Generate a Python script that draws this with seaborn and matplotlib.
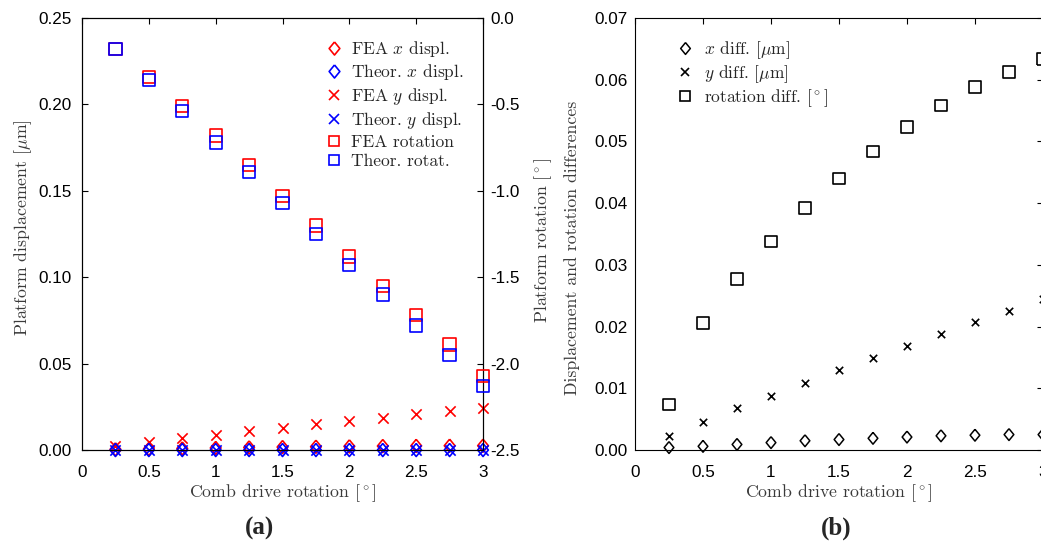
import numpy as np
import matplotlib
matplotlib.use("Agg")
import matplotlib.pyplot as plt
from matplotlib.lines import Line2D
from matplotlib.ticker import FormatStrFormatter
import seaborn as sns

# Data
comb_rot = [0.25, 0.5, 0.75, 1.0, 1.25, 1.5, 1.75, 2.0, 2.25, 2.5, 2.75, 3.0]

fea_x_displ = [0.0004, 0.0006, 0.0009, 0.0012, 0.0015, 0.0017, 0.0019, 0.0021, 0.0023, 0.0024, 0.0025, 0.0025]
theor_x_displ = [0.0, 0.0, 0.0, 0.0, 0.0, 0.0, 0.0, 0.0, 0.0, 0.0, 0.0, 0.0]
fea_y_displ = [0.0023, 0.0046, 0.0068, 0.0088, 0.0109, 0.0130, 0.0149, 0.0169, 0.0188, 0.0207, 0.0225, 0.0245]
theor_y_displ = [0.0, 0.0, 0.0, 0.0, 0.0, 0.0, 0.0, 0.0, 0.0, 0.0, 0.0, 0.0]
fea_rotation = [-0.18, -0.34, -0.51, -0.68, -0.85, -1.03, -1.20, -1.38, -1.55, -1.72, -1.89, -2.07]
theor_rotation = [-0.18, -0.36, -0.54, -0.72, -0.89, -1.07, -1.25, -1.43, -1.60, -1.78, -1.95, -2.13]

x_diff = [0.0004, 0.0006, 0.0009, 0.0012, 0.0015, 0.0017, 0.0019, 0.0021, 0.0023, 0.0024, 0.0025, 0.0025]
y_diff = [0.0023, 0.0046, 0.0068, 0.0088, 0.0109, 0.0130, 0.0149, 0.0169, 0.0188, 0.0207, 0.0225, 0.0245]
rot_diff = [0.0074, 0.0206, 0.0277, 0.0338, 0.0392, 0.0440, 0.0484, 0.0523, 0.0558, 0.0588, 0.0613, 0.0634]

sns.set_style("white")
plt.rcParams["font.family"] = ["Liberation Sans", "DejaVu Sans"]
plt.rcParams["mathtext.fontset"] = "cm"
plt.rcParams["axes.unicode_minus"] = False

label_font = {"family": "cmr10", "size": 12.8, "color": "#3a3a3a"}
legend_font = {"family": "cmr10", "size": 12.5}
tick_size = 12.3

# MATLAB-like diamond (a bit narrower than tall)
diamond = [(0, 1), (0.82, 0), (0, -1), (-0.82, 0), (0, 1)]

fig = plt.figure(figsize=(10.41, 5.49), dpi=100)
ax1 = fig.add_axes([0.0788, 0.1803, 0.3852, 0.7869])
ax3 = fig.add_axes([0.6100, 0.1803, 0.3919, 0.7869])


def style_axes(ax, ypad=6.5):
    for sp in ax.spines.values():
        sp.set_color("black")
        sp.set_linewidth(0.8)
    ax.tick_params(direction="in", length=4, width=0.8, labelsize=tick_size,
                   top=True, right=True, colors="black")
    ax.tick_params(axis="x", pad=10.5)
    ax.tick_params(axis="y", pad=ypad)
    ax.grid(False)


def open_scatter(ax, y, marker, color, s, lw=1.2):
    if marker == "x":
        sns.scatterplot(x=comb_rot, y=y, ax=ax, marker="x", color=color, s=s,
                        linewidth=lw, clip_on=False, zorder=3)
    else:
        sns.scatterplot(x=comb_rot, y=y, ax=ax, marker=marker, color=color,
                        facecolor="none", edgecolor=color, s=s, linewidth=lw,
                        clip_on=False, zorder=3)


# (a) displacements (left axis) and rotations (right axis)
open_scatter(ax1, fea_x_displ, diamond, "red", 88)
open_scatter(ax1, fea_y_displ, "x", "red", 55)
open_scatter(ax1, theor_x_displ, diamond, "blue", 88)
open_scatter(ax1, theor_y_displ, "x", "blue", 55)

ax1.set_xlim(0, 3)
ax1.set_ylim(0, 0.25)
ax1.set_xticks([0, 0.5, 1, 1.5, 2, 2.5, 3])
ax1.set_xticklabels(["0", "0.5", "1", "1.5", "2", "2.5", "3"])
ax1.set_yticks([0, 0.05, 0.10, 0.15, 0.20, 0.25])
ax1.yaxis.set_major_formatter(FormatStrFormatter("%.2f"))
style_axes(ax1, ypad=7.5)
ax1.tick_params(right=False)
ax1.set_xlabel(r"Comb drive rotation $[^\circ]$", fontdict=label_font)
ax1.set_ylabel(r"Platform displacement $[\mu$m$]$", fontdict=label_font)
ax1.xaxis.set_label_coords(0.5, -0.074)
ax1.yaxis.set_label_coords(-0.12, 0.514)

ax2 = ax1.twinx()
open_scatter(ax2, fea_rotation, "s", "red", 78)
open_scatter(ax2, theor_rotation, "s", "blue", 78)
ax2.set_ylim(-2.5, 0)
ax2.set_yticks([-2.5, -2.0, -1.5, -1.0, -0.5, 0.0])
ax2.yaxis.set_major_formatter(FormatStrFormatter("%.1f"))
for sp in ax2.spines.values():
    sp.set_color("black")
    sp.set_linewidth(0.8)
ax2.tick_params(direction="in", length=4, width=0.8, labelsize=tick_size,
                colors="black", pad=5)
ax2.grid(False)
ax2.set_ylabel(r"Platform rotation $[^\circ]$", fontdict=label_font)
ax2.yaxis.set_label_coords(1.122, 0.486)

handles_a = [
    Line2D([], [], ls="", marker=diamond, mfc="none", mec="red", ms=9.4, mew=1.2),
    Line2D([], [], ls="", marker=diamond, mfc="none", mec="blue", ms=9.4, mew=1.2),
    Line2D([], [], ls="", marker="x", color="red", ms=7.4, mew=1.2),
    Line2D([], [], ls="", marker="x", color="blue", ms=7.4, mew=1.2),
    Line2D([], [], ls="", marker="s", mfc="none", mec="red", ms=7.5, mew=1.2),
    Line2D([], [], ls="", marker="s", mfc="none", mec="blue", ms=7.5, mew=1.2),
]
labels_a = [r"FEA $x$ displ.", r"Theor. $x$ displ.", r"FEA $y$ displ.",
            r"Theor. $y$ displ.", "FEA rotation", "Theor. rotat."]
ax2.legend(handles_a, labels_a, loc="upper right", bbox_to_anchor=(0.983, 0.98),
           frameon=False, prop=legend_font, handlelength=0.8, handletextpad=0.6,
           labelspacing=0.2, borderaxespad=0.3)

# (b) differences between FEA and theory
sns.scatterplot(x=comb_rot, y=x_diff, ax=ax3, marker=diamond, color="black",
                facecolor="none", edgecolor="black", s=72, linewidth=1.1,
                clip_on=False, zorder=3)
sns.scatterplot(x=comb_rot, y=y_diff, ax=ax3, marker="x", color="black", s=28,
                linewidth=1.2, clip_on=False, zorder=3)
sns.scatterplot(x=comb_rot, y=rot_diff, ax=ax3, marker="s", color="black",
                facecolor="none", edgecolor="black", s=70, linewidth=1.2,
                clip_on=False, zorder=3)

ax3.set_xlim(0, 3)
ax3.set_ylim(0, 0.07)
ax3.set_xticks([0, 0.5, 1, 1.5, 2, 2.5, 3])
ax3.set_xticklabels(["0", "0.5", "1", "1.5", "2", "2.5", "3"])
ax3.set_yticks([0, 0.01, 0.02, 0.03, 0.04, 0.05, 0.06, 0.07])
ax3.yaxis.set_major_formatter(FormatStrFormatter("%.2f"))
style_axes(ax3, ypad=5.5)
ax3.set_xlabel(r"Comb drive rotation $[^\circ]$", fontdict=label_font)
ax3.set_ylabel("Displacement and rotation differences", fontdict=label_font)
ax3.xaxis.set_label_coords(0.5, -0.074)
ax3.yaxis.set_label_coords(-0.135, 0.468)

handles_b = [
    Line2D([], [], ls="", marker=diamond, mfc="none", mec="black", ms=8.5, mew=1.1),
    Line2D([], [], ls="", marker="x", color="black", ms=5.3, mew=1.2),
    Line2D([], [], ls="", marker="s", mfc="none", mec="black", ms=7.5, mew=1.2),
]
labels_b = [r"$x$ diff. $[\mu$m$]$", r"$y$ diff. $[\mu$m$]$", r"rotation diff. $[^\circ]$"]
ax3.legend(handles_b, labels_b, loc="upper left", bbox_to_anchor=(0.075, 0.98),
           frameon=False, prop=legend_font, handlelength=0.8, handletextpad=0.7,
           labelspacing=0.15, borderaxespad=0.3)

# panel tags
fig.text(0.249, 0.038, "(a)", ha="center", va="center", fontsize=18,
         fontweight="bold", family="Liberation Serif")
fig.text(0.803, 0.038, "(b)", ha="center", va="center", fontsize=18,
         fontweight="bold", family="Liberation Serif")

fig.savefig("out.png", dpi=100)
